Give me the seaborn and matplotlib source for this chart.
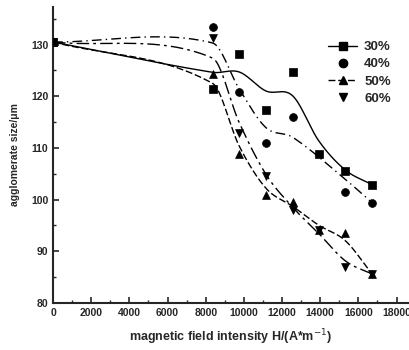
import numpy as np
import pandas as pd
import matplotlib
matplotlib.use("Agg")
import matplotlib.pyplot as plt
from matplotlib.lines import Line2D
import seaborn as sns

# data
field = [0, 8360, 9760, 11160, 12560, 13920, 15320, 16720]
s30 = [130.5, 121.5, 128.2, 117.4, 124.7, 108.9, 105.6, 102.9]
s40 = [130.5, 133.4, 120.9, 110.9, 116.0, None, 101.4, 99.4]
s50 = [130.5, 124.4, 108.8, 100.9, 99.5, 94.1, 93.5, 85.6]
s60 = [130.5, 131.2, 112.9, 104.5, 98.0, 94.1, 87.0, 85.6]
labels = ["30%", "40%", "50%", "60%"]
series = [s30, s40, s50, s60]
markers = ["s", "o", "^", "v"]
styles = ["-", (0, (7, 3, 1, 3)), (0, (5, 2)), (0, (9, 3, 2, 3))]
legend_lines = [True, False, True, False]

sns.set_style("ticks")
plt.rcParams["font.family"] = ["Liberation Sans", "DejaVu Sans"]

def smooth_curve(x, y, n=40):
    x = np.asarray(x, float); y = np.asarray(y, float)
    ys = y.copy()
    for i in range(1, len(y) - 1):
        ys[i] = 0.2 * y[i - 1] + 0.6 * y[i] + 0.2 * y[i + 1]
    X, Y = [], []
    for i in range(len(x) - 1):
        p0 = ys[max(i - 1, 0)]; p1 = ys[i]; p2 = ys[i + 1]; p3 = ys[min(i + 2, len(x) - 1)]
        x0 = x[max(i - 1, 0)]; x1 = x[i]; x2 = x[i + 1]; x3 = x[min(i + 2, len(x) - 1)]
        m1 = (p2 - p0) / (x2 - x0) * (x2 - x1)
        m2 = (p3 - p1) / (x3 - x1) * (x2 - x1)
        t = np.linspace(0, 1, n, endpoint=False)
        h00 = 2*t**3 - 3*t**2 + 1; h10 = t**3 - 2*t**2 + t
        h01 = -2*t**3 + 3*t**2; h11 = t**3 - t**2
        X.extend(x1 + t * (x2 - x1))
        Y.extend(h00*p1 + h10*m1 + h01*p2 + h11*m2)
    X.append(x[-1]); Y.append(ys[-1])
    return np.array(X), np.array(Y)

fig = plt.figure(figsize=(4.09, 3.5), dpi=100)
ax = fig.add_axes([0.1296, 0.1343, 0.868, 0.846])

handles = []
for lab, ys, mk, ls, showline in zip(labels, series, markers, styles, legend_lines):
    pts = [(xv, yv) for xv, yv in zip(field, ys) if yv is not None]
    xs = [p[0] for p in pts]; yv = [p[1] for p in pts]
    cx, cy = smooth_curve(xs, yv)
    sns.lineplot(x=cx, y=cy, ax=ax, color="black", lw=1.0, linestyle=ls,
                 sort=False, estimator=None)
    sns.scatterplot(x=xs, y=yv, ax=ax, marker=mk, color="black", s=32,
                    edgecolor="black", linewidth=0.5, zorder=3)
    handles.append(Line2D([], [], color="black", marker=mk, markersize=6,
                          linestyle=ls if showline else "none", lw=1.0))

ax.set_xlim(0, 18600)
ax.set_ylim(80, 137.3)
ax.set_xticks(np.arange(0, 18001, 2000))
ax.set_xticks(np.arange(0, 18601, 1000), minor=True)
ax.set_yticks([80, 90, 100, 110, 120, 130])
ax.set_yticks(np.arange(80, 137, 5), minor=True)
ax.tick_params(axis="both", which="major", direction="in", length=4, width=1.2,
               labelsize=7.5)
ax.tick_params(axis="both", which="minor", direction="in", length=2, width=1)
for lbl in ax.get_xticklabels() + ax.get_yticklabels():
    lbl.set_fontweight("bold")
sns.despine(ax=ax, top=True, right=True)
ax.spines["left"].set_linewidth(1.5)
ax.spines["bottom"].set_linewidth(1.5)

ax.set_xlabel("magnetic field intensity H/(A*m$^{-1}$)", fontsize=9,
              fontweight="bold", labelpad=7)
ax.set_ylabel("agglomerate size/μm", fontsize=7.5, fontweight="bold", labelpad=8)

leg = ax.legend(handles, labels, loc="upper right", bbox_to_anchor=(0.985, 0.925),
                frameon=False, handlelength=2.2, handletextpad=0.5,
                labelspacing=0.38, prop={"weight": "bold", "size": 9.5})

fig.savefig("out.png", dpi=100)
